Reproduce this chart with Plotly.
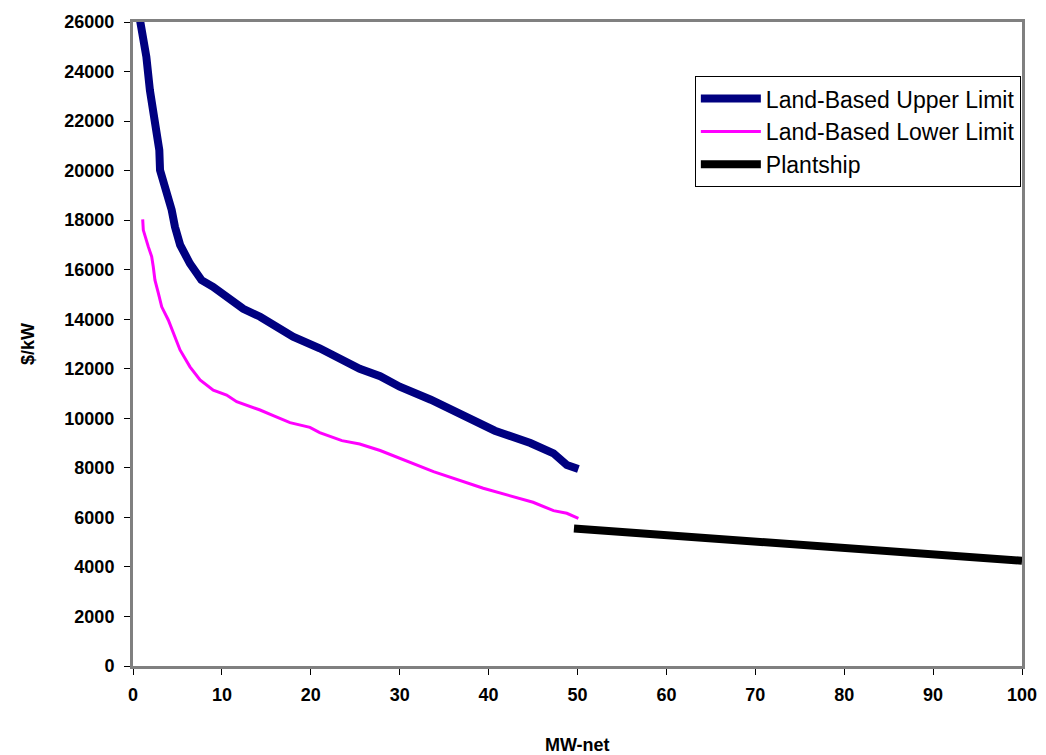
import plotly.graph_objects as go

upper_x = [0.8, 1.5, 1.9, 2.3, 2.85, 2.96, 3.04, 3.4, 3.8, 4.35, 4.72, 5.3, 6.4, 7.7, 9.0, 10.5, 11.3, 12.4, 14.3, 16.2, 18.0, 21.0, 23.8, 25.5, 27.8, 30.0, 33.5, 36.4, 38.8, 40.7, 44.7, 47.3, 48.8, 50.1]
upper_y = [26050, 24600, 23250, 22450, 21235, 20830, 20020, 19620, 19080, 18410, 17735, 17000, 16250, 15580, 15310, 14930, 14700, 14420, 14100, 13700, 13295, 12826, 12300, 12000, 11700, 11276, 10750, 10267, 9800, 9500, 9000, 8587, 8115, 7953]

lower_x = [1.09, 1.16, 1.72, 2.1, 2.28, 2.47, 2.85, 3.23, 3.97, 4.53, 5.29, 6.41, 7.54, 9.03, 10.53, 11.66, 14.29, 15.78, 17.66, 19.9, 21.0, 23.5, 25.5, 27.8, 30.0, 33.8, 39.4, 45.0, 47.3, 48.8, 50.1]
lower_y = [18030, 17600, 16930, 16530, 16120, 15580, 15050, 14500, 13970, 13430, 12760, 12080, 11550, 11140, 10940, 10670, 10335, 10105, 9823, 9635, 9420, 9100, 8960, 8700, 8385, 7846, 7175, 6610, 6272, 6165, 5963]

plantship_x = [49.6, 100]
plantship_y = [5550, 4250]

x_ticks = list(range(0, 101, 10))
y_ticks = list(range(0, 26001, 2000))

fig = go.Figure()
fig.add_trace(go.Scatter(x=upper_x, y=upper_y, mode="lines", name="Land-Based Upper Limit",
                         line=dict(color="#000080", width=8)))
fig.add_trace(go.Scatter(x=lower_x, y=lower_y, mode="lines", name="Land-Based Lower Limit",
                         line=dict(color="#FF00FF", width=3)))
fig.add_trace(go.Scatter(x=plantship_x, y=plantship_y, mode="lines", name="Plantship",
                         line=dict(color="#000000", width=8)))

FONT = "Liberation Sans, Arial"
axis_font = dict(family=FONT, size=18, color="black")
fig.update_layout(
    width=1038, height=747,
    margin=dict(l=125, r=24, t=14, b=89, autoexpand=False),
    plot_bgcolor="white", paper_bgcolor="white",
    font=dict(family=FONT, color="black"),
    showlegend=True,
    legend=dict(x=0.632, y=0.916, xanchor="left", yanchor="top",
                bordercolor="black", borderwidth=1, bgcolor="white",
                itemwidth=60, tracegroupgap=0,
                font=dict(size=23, family=FONT, color="black")),
    xaxis=dict(range=[0, 100], tickvals=x_ticks, ticktext=[f"<b>{v}</b>" for v in x_ticks],
               showgrid=False, zeroline=False, showline=True, mirror=True, automargin=False,
               linecolor="#808080", linewidth=3, ticks="outside", ticklen=6,
               tickcolor="black", tickfont=axis_font, ticklabelstandoff=4),
    yaxis=dict(range=[0, 26000], tickvals=y_ticks, ticktext=[f"<b>{v}</b>" for v in y_ticks],
               showgrid=False, zeroline=False, showline=True, mirror=True, automargin=False,
               linecolor="#808080", linewidth=3, ticks="outside", ticklen=6,
               tickcolor="black", tickfont=axis_font, ticklabelstandoff=6),
    annotations=[
        dict(text="<b>MW-net</b>", xref="paper", yref="paper", x=0.5, y=-0.1227,
             xanchor="center", yanchor="middle", showarrow=False,
             font=dict(size=18, family=FONT, color="black")),
        dict(text="<b>$/kW</b>", xref="paper", yref="paper", x=-0.1181, y=0.5,
             xanchor="center", yanchor="middle", showarrow=False, textangle=-90,
             font=dict(size=18, family=FONT, color="black")),
    ],
)

fig.write_html("out.html")
